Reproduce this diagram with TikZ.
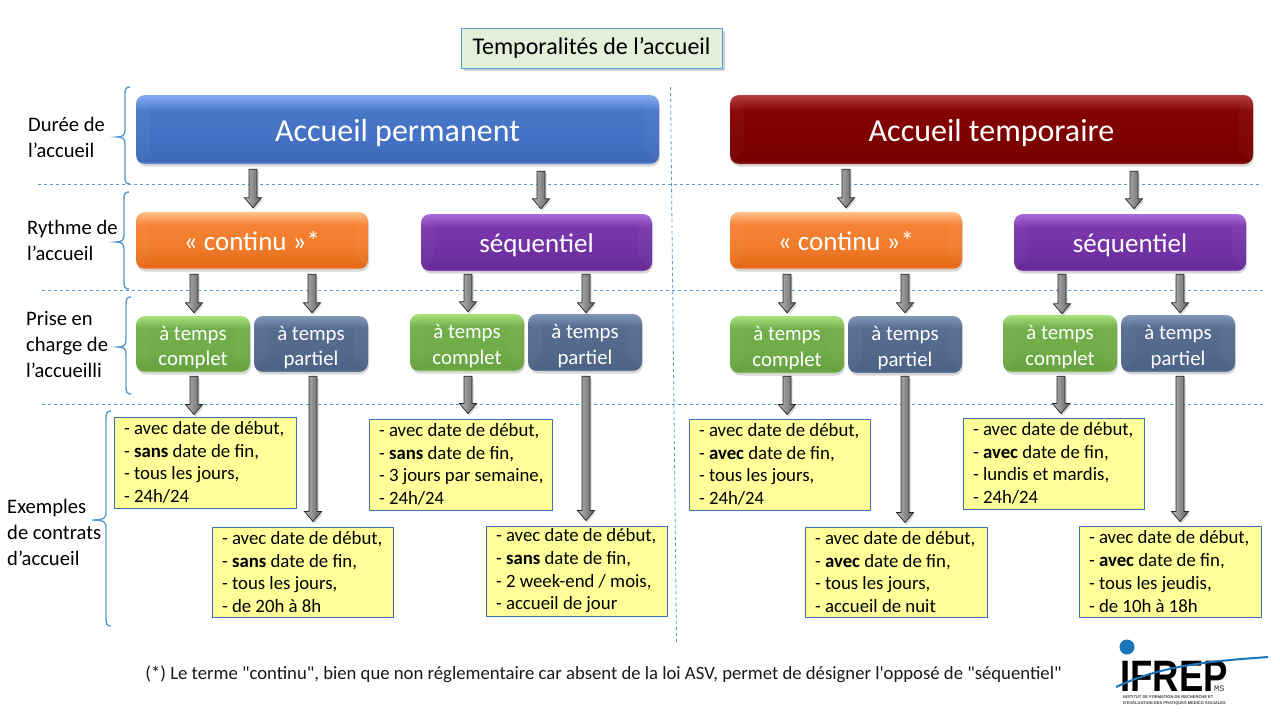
\documentclass[tikz,border=0pt]{standalone}
\usepackage{fontspec}
\setmainfont{Carlito}
\newfontfamily\notefont{Carlito}
\newfontfamily\logofont{Liberation Sans}
\newfontfamily\logomono{Liberation Mono}
\usetikzlibrary{calc,shadows}
\definecolor{sepblue}{HTML}{5B9BD5}
\definecolor{yborder}{HTML}{3A75B0}
\definecolor{yfill}{HTML}{FFFF99}
\definecolor{tfill}{HTML}{E2EFD9}
\definecolor{logoblue}{HTML}{1B75BB}
\newcommand{\glossy}[6]{\definecolor{#1A}{HTML}{#2}\definecolor{#1B}{HTML}{#3}\definecolor{#1C}{HTML}{#4}\definecolor{#1D}{HTML}{#5}\definecolor{#1E}{HTML}{#6}%
  \pgfdeclareverticalshading{#1}{100bp}{color(0bp)=(#1E); color(25bp)=(#1E); color(27bp)=(#1D); color(45bp)=(#1C); color(64bp)=(#1B); color(75bp)=(#1A); color(100bp)=(#1A)}}
\glossy{shblue}{82ABF2}{4A78C8}{4472C4}{4069BA}{6E9BE2}
\glossy{shred}{B84040}{850404}{7E0000}{780000}{9A2A2A}
\glossy{shorange}{FFC08A}{F48234}{F07C2C}{E46A16}{F2A066}
\glossy{shpurple}{AE6CDC}{7A38AC}{7232A4}{682A98}{9658C4}
\glossy{shgreen}{A8E27C}{72AE4A}{70AD47}{68A242}{92CC68}
\glossy{shslate}{8296BC}{566C90}{536A8C}{4C6286}{7488AC}
\pgfdeclarehorizontalshading{shgray}{100bp}{color(0bp)=(black!28); color(25bp)=(black!28); color(75bp)=(black!62); color(100bp)=(black!62)}
\tikzset{
  glossbox/.style={shade,shading=#1,rounded corners=9pt,inner sep=0pt,text=white,align=center,
    drop shadow={opacity=.3,shadow xshift=1pt,shadow yshift=-2.5pt},
    path picture={
      \fill[white,opacity=.03,sharp corners] (path picture bounding box.north west)--([xshift=14pt,yshift=-14pt]path picture bounding box.north west)--([xshift=14pt,yshift=14pt]path picture bounding box.south west)--(path picture bounding box.south west)--cycle;
      \fill[white,opacity=.03,sharp corners] (path picture bounding box.north east)--([xshift=-14pt,yshift=-14pt]path picture bounding box.north east)--([xshift=-14pt,yshift=14pt]path picture bounding box.south east)--(path picture bounding box.south east)--cycle;}},
  bigtext/.style={font=\fontsize{32}{38}\selectfont,text height=23pt,text depth=0pt},
  midtext/.style={font=\fontsize{27}{32}\selectfont,text height=19pt,text depth=0pt},
  smalltext/.style={inner sep=0pt,text=white,align=center,font=\fontsize{20.8}{25.7}\selectfont},
  sidelabel/.style={anchor=north west,inner sep=0pt,font=\fontsize{20.6}{26}\selectfont,align=left,text=black},
  yellowbox/.style={draw=yborder,line width=.9pt,fill=yfill,align=flush left,inner xsep=10pt,inner ysep=0pt,
    font=\fontsize{18.8}{22.7}\selectfont,text=black},
  sepline/.style={draw=sepblue,line width=.8pt,dash pattern=on 3.4pt off 2.6pt},
  bracket/.style={draw=sepblue,line width=1.4pt},
  barrowshape/.style={draw=black!85,line width=.7pt,shade,shading=shgray,
    drop shadow={opacity=.3,shadow xshift=1.5pt,shadow yshift=-2pt}},
}
% glossy box from its pixel corners: name, left, top, right, bottom, shading, text style, text
\newcommand{\gbox}[8]{\node[glossbox=#6,#7,minimum width={(#4-#2)*1pt},minimum height={(#5-#3)*1pt}] (#1) at ({(#2+#4)/2},{(#3+#5)/2}) {#8};}
% small glossy box with a two-line text set slightly below its centre
\newcommand{\tbox}[7]{\gbox{#1}{#2}{#3}{#4}{#5}{#6}{}{}\node[smalltext] (#1t) at ($(#1.center)+(0,3.5)$) {#7};}
% yellow contract box: name, left, top, right, bottom, text
\newcommand{\ybox}[6]{\node[yellowbox,text width={(#4-#2-20)*1pt},minimum height={(#5-#3)*1pt}] (#1) at ({(#2+#4)/2},{(#3+#5)/2}) {#6};}
% block arrow: source node, target node, x, start gap, end gap
\newcommand{\barrow}[5]{\draw[barrowshape] let \p1=(#1.south), \p2=(#2.north) in
  (#3-4pt,{\y1-#4pt}) -- (#3-4pt,{\y2+#5pt+10pt}) -- (#3-8.5pt,{\y2+#5pt+10pt}) -- (#3pt,{\y2+#5pt}) -- (#3+8.5pt,{\y2+#5pt+10pt}) -- (#3+4pt,{\y2+#5pt+10pt}) -- (#3+4pt,{\y1-#4pt}) -- cycle;}
% left brace: bar x, top, middle, bottom, tip x
\newcommand{\lbrak}[5]{\draw[bracket] ({#1+5},#2) .. controls ({#1+1},#2) and (#1,{#2+2}) .. (#1,{#2+7}) -- (#1,{#3-7}) .. controls (#1,{#3-2}) and ({#1-2},#3) .. (#5,#3) .. controls ({#1-2},#3) and (#1,{#3+2}) .. (#1,{#3+7}) -- (#1,{#4-7}) .. controls (#1,{#4-2}) and ({#1+1},#4) .. ({#1+5},#4);}
\begin{document}
\begin{tikzpicture}[x=1pt,y=-1pt]
\fill[white] (0,0) rectangle (1280,720);
\useasboundingbox (0,0) rectangle (1280,720);
% separators
\coordinate (h1a) at (38,184);\coordinate (h1b) at (1262,184);
\coordinate (h2a) at (42,290);\coordinate (h2b) at (1265,290);
\coordinate (h3a) at (42,404);\coordinate (h3b) at (1264,404);
\coordinate (v1a) at (670.5,87);\coordinate (v1b) at (676.5,642);
\draw[sepline] (h1a) -- (h1b);
\draw[sepline] (h2a) -- (h2b);
\draw[sepline] (h3a) -- (h3b);
\draw[sepline] (v1a) -- (v1b);
% braces
\lbrak{125}{87}{137}{184}{117}
\lbrak{124}{192}{242}{289}{116}
\lbrak{126}{297}{347}{394}{118}
\lbrak{106}{411}{520}{626}{92}
% side labels
\node[sidelabel] (l1) at (28,117) {Durée de\\l’accueil};
\node[sidelabel] (l2) at (27,220) {Rythme de\\l’accueil};
\node[sidelabel] (l3) at (26,311) {Prise en\\charge de\\l’accueilli};
\node[sidelabel] (l4) at (7,499) {Exemples\\de contrats\\d’accueil};
% title
\node[draw=sepblue,line width=.9pt,fill=tfill,minimum width=261pt,minimum height=40pt,inner sep=0pt,
  font=\fontsize{24}{29}\selectfont,text=black,text height=12.6pt,text depth=0pt,
  drop shadow={opacity=.35,shadow xshift=2.5pt,shadow yshift=-2.5pt}] (title) at (591.5,48) {Temporalités de l’accueil};
% level 1
\gbox{perm}{136}{95}{659}{164}{shblue}{bigtext}{Accueil permanent}
\gbox{temp}{730}{95}{1253}{164}{shred}{bigtext}{Accueil temporaire}
% level 2
\gbox{c1}{136}{212}{368}{269}{shorange}{midtext}{« continu »*}
\gbox{s1}{421}{214}{652}{271}{shpurple}{midtext}{séquentiel}
\gbox{c2}{730}{212}{962}{269}{shorange}{midtext}{« continu »*}
\gbox{s2}{1014}{214}{1246}{271}{shpurple}{midtext}{séquentiel}
% level 3
\tbox{g1}{136}{316}{250}{372}{shgreen}{à temps\\complet}
\tbox{p1}{254}{316}{368}{372}{shslate}{à temps\\partiel}
\tbox{g2}{410}{314}{524}{371}{shgreen}{à temps\\complet}
\tbox{p2}{528}{314}{642}{371}{shslate}{à temps\\partiel}
\tbox{g3}{730}{316}{844}{373}{shgreen}{à temps\\complet}
\tbox{p3}{848}{316}{962}{373}{shslate}{à temps\\partiel}
\tbox{g4}{1003}{315}{1117}{372}{shgreen}{à temps\\complet}
\tbox{p4}{1121}{315}{1235}{372}{shslate}{à temps\\partiel}
% contracts
\ybox{y1}{114}{417}{296}{508}{- avec date de début,\\- \textbf{sans} date de fin,\\- tous les jours,\\- 24h/24}
\ybox{y2}{212}{527}{393}{617}{- avec date de début,\\- \textbf{sans} date de fin,\\- tous les jours,\\- de 20h à 8h}
\ybox{y3}{369}{419}{552}{510}{- avec date de début,\\- \textbf{sans} date de fin,\\\mbox{- 3 jours par semaine,}\\- 24h/24}
\ybox{y4}{486}{526}{667}{616}{- avec date de début,\\- \textbf{sans} date de fin,\\- 2 week-end / mois,\\- accueil de jour}
\ybox{y5}{689}{419}{870}{510}{- avec date de début,\\- \textbf{avec} date de fin,\\- tous les jours,\\- 24h/24}
\ybox{y6}{805}{527}{987}{617}{- avec date de début,\\- \textbf{avec} date de fin,\\- tous les jours,\\- accueil de nuit}
\ybox{y7}{963}{418}{1144}{509}{- avec date de début,\\- \textbf{avec} date de fin,\\- lundis et mardis,\\- 24h/24}
\ybox{y8}{1079}{526}{1261}{617}{- avec date de début,\\- \textbf{avec} date de fin,\\- tous les jeudis,\\- de 10h à 18h}
% arrows
\barrow{perm}{c1}{253}{5}{4}
\barrow{perm}{s1}{541}{7}{5}
\barrow{temp}{c2}{846}{5}{4}
\barrow{temp}{s2}{1134}{7}{5}
\barrow{c1}{g1}{194}{5}{3}
\barrow{c1}{p1}{312}{5}{3}
\barrow{s1}{g2}{468}{3}{2}
\barrow{s1}{p2}{586}{3}{1}
\barrow{c2}{g3}{787}{5}{3}
\barrow{c2}{p3}{905}{5}{3}
\barrow{s2}{g4}{1062}{3}{1}
\barrow{s2}{p4}{1180}{3}{2}
\barrow{g1}{y1}{194}{4}{2}
\barrow{p1}{y2}{313}{4}{5}
\barrow{g2}{y3}{468}{5}{5}
\barrow{p2}{y4}{586}{5}{5}
\barrow{g3}{y5}{787}{3}{4}
\barrow{p3}{y6}{905}{3}{4}
\barrow{g4}{y7}{1061}{4}{4}
\barrow{p4}{y8}{1180}{4}{4}
% footnote
\node[inner sep=0pt,font=\notefont\fontsize{18.7}{22}\selectfont,text=black!90] (note) at (603.5,674.5) {(*) Le terme "continu", bien que non réglementaire car absent de la loi ASV, permet de désigner l'opposé de "séquentiel"};
% logo
\node[circle,fill=logoblue,inner sep=0pt,minimum size=15pt] (logodot) at (1127,647) {};
\node[inner sep=0pt,anchor=south west,font=\logofont\bfseries\fontsize{44}{44}\selectfont,text=black] (logoname) at (1120,692) {\scalebox{0.83}[1]{IFREP}};
\coordinate (la) at (1116,687);\coordinate (lb) at (1268,657);
\draw[logoblue,line width=2pt] (la) .. controls (1165,664) and (1215,661) .. (lb);
\node[inner sep=0pt,anchor=south west,font=\logomono\fontsize{8.5}{9}\selectfont,text=black!80] (logoms) at (1214,692) {MS};
\node[inner sep=0pt,anchor=north west,align=left,font=\logofont\bfseries\fontsize{4.05}{6.3}\selectfont,text=black!75] (logotxt) at (1123,695) {INSTITUT DE FORMATION DE RECHERCHE ET\\D'EVALUATION DES PRATIQUES MEDICO SOCIALES};
\end{tikzpicture}
\end{document}
